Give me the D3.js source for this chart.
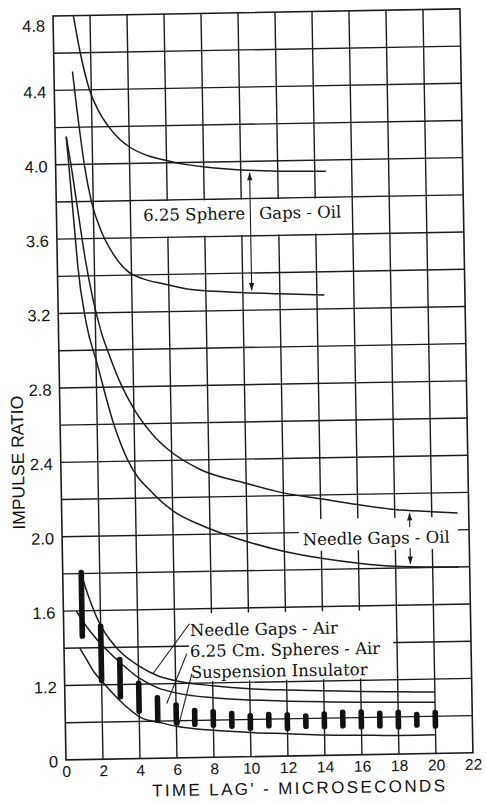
<!DOCTYPE html>
<html>
<head>
<meta charset="utf-8">
<script src="https://cdn.jsdelivr.net/npm/d3@7/dist/d3.min.js"></script>
<style>
  html, body { margin: 0; padding: 0; background: #fff; }
  svg { display: block; }
</style>
</head>
<body>
<svg id="chart" width="486" height="803"></svg>
<script>
// ---- data -------------------------------------------------------------
const xTickValues = [0, 2, 4, 6, 8, 10, 12, 14, 16, 18, 20, 22];
const yTickValues = [0.8, 1.2, 1.6, 2.0, 2.4, 2.8, 3.2, 3.6, 4.0, 4.4, 4.8];
const yTickLabels = ["0", "1.2", "1.6", "2.0", "2.4", "2.8", "3.2", "3.6", "4.0", "4.4", "4.8"];

// 6.25 sphere gaps in oil (two bounding curves)
const sphereOilUpper = [[1.1,4.8],[1.4,4.62],[1.9,4.4],[2.4,4.28],[2.9,4.2],[3.5,4.13],[4,4.09],[5,4.04],[5.7,4.02],[7,3.99],[8,3.975],[10,3.955],[12,3.945],[14.6,3.94]];
const sphereOilLower = [[1.0,4.5],[1.2,4.3],[1.4,4.12],[1.55,4.0],[1.9,3.8],[2.4,3.64],[3,3.52],[3.8,3.42],[4.6,3.38],[5.7,3.35],[7,3.32],[8.5,3.305],[10,3.295],[12,3.285],[14.4,3.275]];

// needle gaps in oil (two bounding curves)
const needleOilUpper = [[0.6,4.15],[0.9,3.95],[1.2,3.72],[1.5,3.5],[1.9,3.27],[2.3,3.1],[2.8,2.95],[3.3,2.82],[4,2.68],[5,2.54],[5.8,2.46],[7.5,2.35],[10,2.27],[12,2.215],[14,2.18],[16,2.145],[18,2.115],[20,2.1],[21.4,2.09]];
const needleOilLower = [[0.6,4.15],[0.8,3.88],[1.0,3.6],[1.1,3.46],[1.5,3.15],[2.05,2.93],[2.9,2.6],[3.6,2.41],[5,2.22],[6,2.13],[7.5,2.05],[9,1.99],[10.2,1.95],[12,1.9],[14,1.86],[16,1.83],[18,1.81],[21.4,1.8]];

// air curves
const needleAir = [[0.95,1.82],[1.2,1.73],[1.5,1.64],[2,1.52],[2.5,1.44],[3,1.38],[4,1.3],[5,1.245],[6,1.215],[8,1.185],[10,1.165],[12,1.155],[14,1.148],[16,1.14],[18,1.135],[20,1.13]];
const spheresAir = [[0.7,1.6],[1,1.55],[1.5,1.48],[2,1.42],[3,1.32],[4,1.235],[5,1.18],[6,1.15],[8,1.12],[10,1.105],[12,1.095],[14,1.088],[16,1.082],[18,1.078],[20,1.075]];
const suspensionAir = [[0.85,1.4],[1.2,1.34],[1.6,1.27],[2.1,1.21],[3,1.11],[4.1,1.02],[5.2,0.99],[6,0.97],[8,0.945],[10,0.93],[12,0.92],[14,0.91],[16,0.905],[18,0.9],[20,0.9]];

// range bars
const barX    = [1,2,3,4,5,6,7,8,9,10,11,12,13,14,15,16,17,18,19,20];
const barLow  = [1.45,1.21,1.12,1.04,0.99,0.975,0.965,0.958,0.951,0.938,0.95,0.934,0.943,0.94,0.943,0.936,0.939,0.932,0.94,0.933];
const barHigh = [1.82,1.53,1.35,1.22,1.14,1.10,1.068,1.06,1.048,1.035,1.04,1.036,1.028,1.037,1.045,1.044,1.036,1.039,1.026,1.035];

// ---- layout -----------------------------------------------------------
const ox = 53, oy = 16, pw = 407, ph = 744;
const ink = "#1c1c1c";

const x = d3.scaleLinear().domain([0, 22]).range([0, pw]);
const y = d3.scaleLinear().domain([0.8, 4.8]).range([ph, 0]);

const svg = d3.select("#chart");
svg.append("rect").attr("width", 486).attr("height", 803).attr("fill", "#fff");

const g = svg.append("g").attr("transform", `translate(${ox},${oy}) rotate(-1)`);

// grid
const xGrid = d3.range(2, 22, 2);
const yGrid = d3.range(1.0, 4.79, 0.2);
g.append("g").selectAll("line").data(xGrid).join("line")
  .attr("x1", d => x(d)).attr("x2", d => x(d))
  .attr("y1", 0).attr("y2", ph)
  .attr("stroke", ink).attr("stroke-width", 1.4);
g.append("g").selectAll("line").data(yGrid).join("line")
  .attr("x1", 0).attr("x2", pw)
  .attr("y1", d => y(d)).attr("y2", d => y(d))
  .attr("stroke", ink).attr("stroke-width", 1.4);

// white label panels that break the grid
const panels = [
  { x0: 4.1, x1: 15.9, y0: 3.605, y1: 3.795 },
  { x0: 12.8, x1: 21.4, y0: 1.90, y1: 2.07 },
  { x0: 6.75, x1: 17.8, y0: 1.21, y1: 1.575 }
];
g.append("g").selectAll("rect").data(panels).join("rect")
  .attr("x", d => x(d.x0)).attr("width", d => x(d.x1) - x(d.x0))
  .attr("y", d => y(d.y1)).attr("height", d => y(d.y0) - y(d.y1))
  .attr("fill", "#fff");

// curves
const line = d3.line().x(d => x(d[0])).y(d => y(d[1])).curve(d3.curveMonotoneX);
const curves = [sphereOilUpper, sphereOilLower, needleOilUpper, needleOilLower, needleAir, spheresAir, suspensionAir];
g.append("g").selectAll("path").data(curves).join("path")
  .attr("d", line).attr("fill", "none")
  .attr("stroke", ink).attr("stroke-width", 1.5);

// range bars
g.append("g").selectAll("rect").data(barX).join("rect")
  .attr("x", d => x(d) - 2.8).attr("width", 5.6)
  .attr("y", (d, i) => y(barHigh[i]))
  .attr("height", (d, i) => y(barLow[i]) - y(barHigh[i]))
  .attr("rx", 2.6).attr("fill", "#111");

// frame
g.append("rect").attr("x", 0).attr("y", 0).attr("width", pw).attr("height", ph)
  .attr("fill", "none").attr("stroke", ink).attr("stroke-width", 1.6);

// arrows
function arrowHead(px, py, up) {
  const s = up ? 1 : -1;
  g.append("path")
    .attr("d", `M${px},${py} L${px - 2.6},${py + 8 * s} L${px + 2.6},${py + 8 * s} Z`)
    .attr("fill", ink);
}
const interp = (arr, xv) => {
  const i = d3.bisector(d => d[0]).left(arr, xv);
  const a = arr[i - 1], b = arr[i];
  return a[1] + (b[1] - a[1]) * (xv - a[0]) / (b[0] - a[0]);
};
// sphere gaps arrow
{
  const ax = 10.48;
  const t = interp(sphereOilUpper, ax), b = interp(sphereOilLower, ax);
  g.append("line").attr("x1", x(ax)).attr("x2", x(ax))
    .attr("y1", y(t) + 3).attr("y2", y(b) - 3)
    .attr("stroke", ink).attr("stroke-width", 1.1);
  arrowHead(x(ax), y(t) + 2, true);
  arrowHead(x(ax), y(b) - 2, false);
}
// needle gaps oil arrows
{
  const ax = 18.8;
  const t = interp(needleOilUpper, ax), b = interp(needleOilLower, ax);
  g.append("line").attr("x1", x(ax)).attr("x2", x(ax))
    .attr("y1", y(t) + 3).attr("y2", y(2.02))
    .attr("stroke", ink).attr("stroke-width", 1.1);
  g.append("line").attr("x1", x(ax)).attr("x2", x(ax))
    .attr("y1", y(1.905)).attr("y2", y(b) - 3)
    .attr("stroke", ink).attr("stroke-width", 1.1);
  arrowHead(x(ax), y(t) + 2, true);
  arrowHead(x(ax), y(b) - 2, false);
}

// leader lines for the air labels
const leaders = [
  [[6.8, 1.52], [4.78, 1.255]],
  [[6.63, 1.36], [5.5, 1.094]],
  [[6.88, 1.25], [6.1, 0.967]]
];
g.append("g").selectAll("line").data(leaders).join("line")
  .attr("x1", d => x(d[0][0])).attr("y1", d => y(d[0][1]))
  .attr("x2", d => x(d[1][0])).attr("y2", d => y(d[1][1]))
  .attr("stroke", ink).attr("stroke-width", 1.1);

// annotation text
const serif = "'DejaVu Serif', 'Liberation Serif', serif";
function note(str, xv, yv, anchor, size) {
  g.append("text").attr("x", x(xv)).attr("y", y(yv))
    .attr("text-anchor", anchor || "start")
    .attr("font-family", serif).attr("font-size", size || 16.5)
    .attr("fill", "#111").text(str);
}
note("6.25 Sphere", 10.2, 3.69, "end", 16.5);
note("Gaps - Oil", 10.95, 3.69, "start", 16.5);
note("Needle Gaps - Oil", 13.0, 1.932, "start", 16.5);
note("Needle Gaps - Air", 6.82, 1.454);
note("6.25 Cm. Spheres - Air", 6.8, 1.341);
note("Suspension Insulator", 6.83, 1.228);

// axes labels
const sans = "'Liberation Sans', Arial, sans-serif";
const yAxis = d3.axisLeft(y).tickValues(yTickValues)
  .tickFormat((d, i) => yTickLabels[i]).tickSize(0).tickPadding(8);
const ya = g.append("g").call(yAxis);
ya.select(".domain").remove();
ya.selectAll("text").attr("font-family", sans).attr("font-size", 16.5).attr("fill", "#111")
  .attr("dy", d => d === 4.8 ? "0.9em" : "0.42em");

const xAxis = d3.axisBottom(x).tickValues(xTickValues).tickSize(0).tickPadding(6);
const xa = g.append("g").attr("transform", `translate(0,${ph})`).call(xAxis);
xa.select(".domain").remove();
xa.selectAll("text").attr("font-family", sans).attr("font-size", 15.5).attr("fill", "#111");

g.append("text")
  .attr("transform", `translate(-43,446) rotate(-90)`)
  .attr("text-anchor", "middle").attr("dy", "0.35em")
  .attr("font-family", sans).attr("font-size", 17.5).attr("fill", "#111")
  .text("IMPULSE RATIO");

g.append("text")
  .attr("x", 232).attr("y", ph + 38)
  .attr("text-anchor", "middle")
  .attr("font-family", sans).attr("font-size", 17).attr("fill", "#111")
  .attr("textLength", 293).attr("lengthAdjust", "spacing")
  .text("TIME LAG' - MICROSECONDS");
</script>
</body>
</html>
